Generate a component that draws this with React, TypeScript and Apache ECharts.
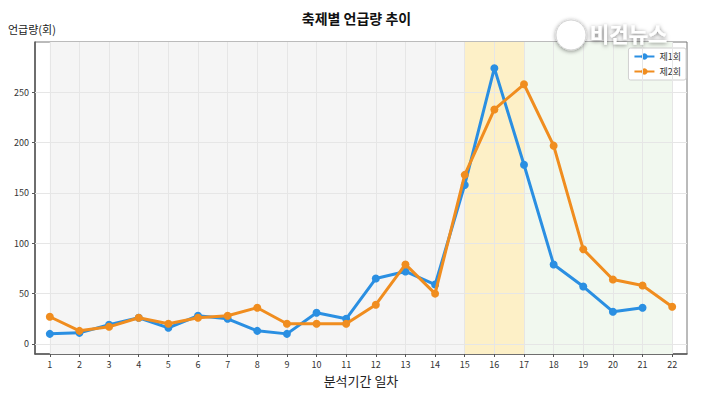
import React, { useEffect, useRef } from "react";
import * as echarts from "echarts";

const days = ["1","2","3","4","5","6","7","8","9","10","11","12","13","14","15","16","17","18","19","20","21","22"];
const round1: (number | null)[] = [10, 11, 19, 26, 16, 28, 25, 13, 10, 31, 25, 65, 72, 59, 158, 274, 178, 79, 57, 32, 36, null];
const round2: number[] = [27, 13, 17, 26, 20, 26, 28, 36, 20, 20, 20, 39, 79, 50, 168, 233, 258, 197, 94, 64, 58, 37];
const yTicks = [0, 50, 100, 150, 200, 250];
const seriesNames = ["제1회", "제2회"];
const FONT = "'Noto Sans CJK KR', 'Noto Sans', sans-serif";

export default function App() {
  const ref = useRef<HTMLDivElement>(null);
  useEffect(() => {
    if (!ref.current) return;
    const chart = echarts.init(ref.current, null, { renderer: "svg" });
    const gridColor = "#e6e6e6";
    chart.setOption({
      animation: false,
      backgroundColor: "#ffffff",
      textStyle: { fontFamily: FONT },
      title: {
        text: "축제별 언급량 추이",
        left: "center",
        top: 6,
        textStyle: { fontSize: 14, fontWeight: "bold", color: "#111", fontFamily: FONT },
      },
      grid: {
        left: 35, top: 42, right: 26, bottom: 40,
        show: true, borderColor: "#777", borderWidth: 1, backgroundColor: "#ffffff",
      },
      legend: {
        data: seriesNames,
        orient: "vertical",
        right: 27,
        top: 48,
        backgroundColor: "#ffffff",
        borderColor: "#d0d0d0",
        borderWidth: 1,
        borderRadius: 2,
        padding: [4, 5],
        itemGap: 6,
        itemWidth: 20,
        itemHeight: 8,
        textStyle: { fontSize: 9, color: "#333", fontFamily: FONT },
      },
      xAxis: {
        type: "category",
        data: days,
        boundaryGap: true,
        name: "분석기간 일차",
        nameLocation: "middle",
        nameGap: 20,
        nameTextStyle: { fontSize: 13, color: "#222", fontFamily: FONT },
        axisLine: { onZero: false, lineStyle: { color: "#555", width: 1.5 } },
        axisTick: { show: true, alignWithLabel: true, length: 3, lineStyle: { color: "#555" } },
        axisLabel: { fontSize: 9, color: "#333", margin: 6, interval: 0 },
        splitLine: { show: false },
      },
      yAxis: {
        type: "value",
        min: -10,
        max: 300,
        axisLine: { show: true, lineStyle: { color: "#555", width: 1.5 } },
        axisTick: { show: true, length: 3, customValues: yTicks, lineStyle: { color: "#555" } },
        axisLabel: { fontSize: 9, color: "#333", margin: 6, customValues: yTicks },
        splitLine: { show: false },
      },
      graphic: [
        {
          type: "text",
          left: 8,
          top: 23,
          style: { text: "언급량(회)", fontSize: 11, fill: "#222", fontFamily: FONT },
        },
        {
          type: "circle",
          shape: { cx: 571, cy: 35, r: 15 },
          style: {
            fill: "#ffffff",
            stroke: "#d5d5d5",
            lineWidth: 1,
            shadowColor: "rgba(0,0,0,0.45)",
            shadowBlur: 4,
            shadowOffsetY: 1,
          },
          z: 100,
        },
        {
          type: "text",
          left: 590,
          top: 22,
          style: {
            text: "비건뉴스",
            fontSize: 21,
            fontWeight: "bold",
            fill: "#ffffff",
            fontFamily: FONT,
            textShadowColor: "rgba(0,0,0,0.55)",
            textShadowBlur: 4,
            textShadowOffsetY: 1,
          },
          z: 100,
        },
      ],
      series: [
        {
          name: "bg",
          type: "line",
          data: [],
          z: 1,
          silent: true,
          markArea: {
            silent: true,
            data: [
              [{ xAxis: "1", itemStyle: { color: "#f5f5f5" } }, { xAxis: "15" }],
              [{ xAxis: "15", itemStyle: { color: "#fdf0c7" } }, { xAxis: "17" }],
              [{ xAxis: "17", itemStyle: { color: "#f1f8ef" } }, { xAxis: "22" }],
            ],
          },
          markLine: {
            silent: true,
            symbol: "none",
            label: { show: false },
            lineStyle: { color: gridColor, type: "solid", width: 1 },
            data: [
              ...days.map((d) => ({ xAxis: d })),
              ...yTicks.map((v) => ({ yAxis: v })),
            ],
          },
        },
        {
          name: seriesNames[0],
          type: "line",
          data: round1,
          z: 5,
          color: "#2a8fe2",
          symbol: "circle",
          symbolSize: 8,
          lineStyle: { width: 3 },
          connectNulls: false,
        },
        {
          name: seriesNames[1],
          type: "line",
          data: round2,
          z: 6,
          color: "#f08d1f",
          symbol: "circle",
          symbolSize: 8,
          lineStyle: { width: 3 },
        },
      ],
    });
    return () => chart.dispose();
  }, []);
  return <div ref={ref} style={{ width: 713, height: 394, position: "absolute", left: 0, top: 0 }} />;
}
